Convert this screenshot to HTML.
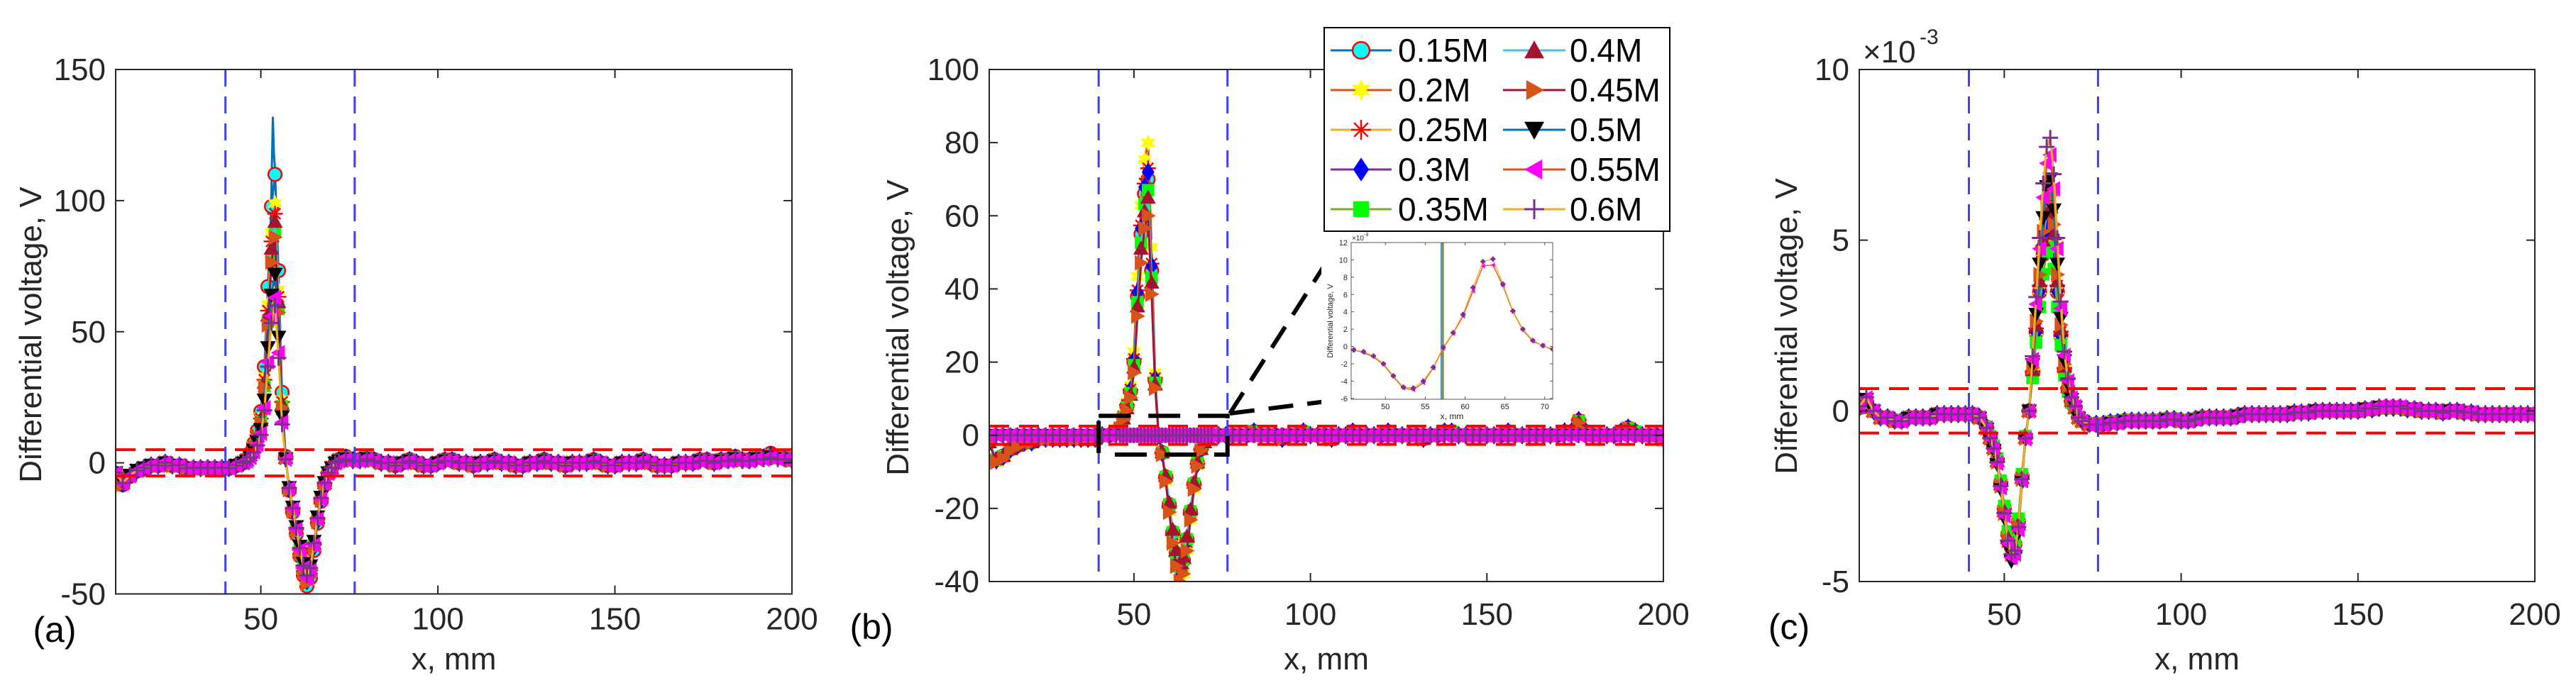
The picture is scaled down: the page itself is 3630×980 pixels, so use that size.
<!DOCTYPE html>
<html><head><meta charset="utf-8"><title>Differential voltage panels</title>
<style>
html,body{margin:0;padding:0;background:#fff;}
svg{display:block;font-family:"Liberation Sans",Arial,sans-serif;}
</style></head>
<body>
<svg id="fig" width="3630" height="980" viewBox="0 0 3630 980"></svg>
<script>
// ---------- data ----------
const seriesNames = ['0.15M','0.2M','0.25M','0.3M','0.35M','0.4M','0.45M','0.5M','0.55M','0.6M'];
const xs = [9,11,13,15,17,19,21,23,25,27,29,31,33,35,37,39,41,43,
 45,46,47,48,49,50,51,52,53,54,55,56,57,58,59,60,61,62,63,64,65,66,67,68,69,70,71,72,
 74,76,78,80,82,84,86,88,90,92,94,96,98,100,102,104,106,108,110,112,114,116,118,120,122,124,126,128,130,132,134,136,138,140,142,144,146,148,150,152,154,156,158,160,162,164,166,168,170,172,174,176,178,180,182,184,186,188,190,192,194,196,198,200];
const aValues = [-4,-8,-5,-3,-2,-1,-1,0,-1,-1,-2,-2,-2,-2,-2,-2,-2,-1,
 0,1,3,6,10,16,30,55,80,90,60,22,2,-10,-18,-26,-34,-41,-45,-42,-32,-22,-14,-8,-4,-2,0,1,
 2,1,1,2,1,0,0,-1,0,1, 0,-1,-1,0,1,1,0,0,-1,0, 0,1,0,0,-1,-1,0,0,1,0, 0,-1,0,0,0,1,0,-1,-1,0, 0,0,1,0,-1,-1,-1,0,0,0, 1,1,0,1,1,2,1,1,2,2, 3,2,2,1];
const aBasePeak = 90, aBaseTrough = -45;
const aPeaks = [110,99,95,90,88,92,86,72,63,60];
const aTroughs = [-47,-45,-44,-45,-44,-43,-46,-42,-44,-43];
// 0.15M raw-line spike in panel (a)
const aSpikeX = [52.5,53,53.4,53.7,54,54.5,55];
const aSpikeY = [70,105,132,118,112,90,60];
const bValues = [-2,-7,-6,-4,-3,-2,-2,-1,-1,-1,-1,-1,-1,-1,-1,-1,0,0,
 1,2,5,8,12,20,38,55,66,70,45,15,0,-5,-12,-20,-28,-34,-38,-36,-30,-22,-14,-8,-4,-2,-1,0,
 0,0,0,0,0,1,0,0,0,-1, 0,0,1,0,0,0,-1,0,0,1, 0,0,0,0,1,0,0,0,0,-1, 0,0,1,1,0,0,0,0,0,0, 0,1,0,0,0,0,0,0,0,1, 1,4,1,0,0,0,0,1,2,1, 0,0,0,-1];
const bBasePeak = 70, bBaseTrough = -38;
const bPeaks = [70,80,73,72,67,65,60,0,0,0];
const bTroughs = [-36,-40,-37,-37,-36,-35,-40,0,0,0];
const cValues = [0.1,0.3,0,-0.2,-0.2,-0.3,-0.3,-0.2,-0.2,-0.2,-0.2,-0.1,-0.1,-0.1,-0.1,-0.1,-0.1,-0.2,
 -0.5,-0.8,-1.1,-1.5,-2.2,-3.0,-3.8,-4.2,-4.1,-3.4,-2.0,-0.8,0,1.2,2.5,3.8,5.0,5.8,6.0,5.2,3.8,2.4,1.3,0.7,0.3,0.1,-0.2,-0.3,
 -0.4,-0.4,-0.4,-0.35,-0.35,-0.3,-0.3,-0.3,-0.3,-0.3, -0.3,-0.25,-0.25,-0.3,-0.3,-0.25,-0.2,-0.2,-0.2,-0.2, -0.2,-0.15,-0.1,-0.1,-0.1,-0.1,-0.1,-0.1,-0.1,-0.05, -0.05,-0.05,0,0,0,0,0,0,0,0.05, 0.05,0.1,0.1,0.1,0.1,0.05,0.05,0,0,0, -0.05,0,0,-0.05,-0.05,-0.1,-0.1,-0.1,-0.1,-0.1, -0.1,-0.1,-0.1,-0.1];
const cBasePeak = 6, cBaseTrough = -4.2;
const cPeaks = [5.5,5.6,5.8,5.5,4.8,6.0,6.3,6.8,7.5,8.0];
const cTroughs = [-4.0,-4.1,-4.2,-4.0,-3.9,-4.1,-4.2,-4.4,-4.3,-4.2];
const inX = [46,47.25,48.5,49.75,51,52.25,53.5,54.75,56,57.25,58.5,59.75,61,62.25,63.5,64.75,66,67.25,68.5,69.75,71];
const in55 = [-0.4,-0.7,-1.2,-2.1,-3.5,-4.8,-5.0,-4.2,-2.5,-0.2,1.5,3.5,6.4,9.3,9.4,7.0,4.0,1.9,0.6,0.1,-0.4];
const in60 = [-0.4,-0.6,-1.1,-2.0,-3.4,-4.7,-4.8,-4.0,-2.4,-0.1,1.6,3.7,6.8,9.8,10.1,7.2,4.1,2.0,0.7,0.1,-0.3];
const inVLines = [57.0,57.1,57.2,57.3];
const xTicks = [50,100,150,200];
const aYTicks = [-50,0,50,100,150];
const bYTicks = [-40,-20,0,20,40,60,80,100];
const cYTicks = [-5,0,5,10];
const inXTicks = [50,55,60,65,70];
const inYTicks = [-6,-4,-2,0,2,4,6,8,10,12];

const lineColors = ['#0072BD','#D95319','#EDB120','#7E2F8E','#77AC30','#4DBEEE','#A2142F','#0072BD','#D95319','#EDB120'];
const markerTypes = ['o','h','*','d','s','^','>','v','<','+'];

const NS = 'http://www.w3.org/2000/svg';
const svg = document.getElementById('fig');
function mk(tag, attrs, parent){const e=document.createElementNS(NS,tag);for(const k in attrs)e.setAttribute(k,attrs[k]);parent.appendChild(e);return e;}
function txt(parent,x,y,s,size,anchor,extra){const t=mk('text',Object.assign({x:x,y:y,'font-size':size,'text-anchor':anchor||'middle',fill:'#262626'},extra||{}),parent);t.textContent=s;return t;}

function drawMarker(parent,type,cx,cy,r){
  let e;
  if(type==='o'){e=mk('circle',{cx:cx,cy:cy,r:r*0.85,fill:'#00FFFF',stroke:'#FF0000','stroke-width':2.5},parent);}
  else if(type==='h'){let p=[];for(let i=0;i<12;i++){const a=Math.PI/6*i-Math.PI/2;const rr=i%2?r*0.55:r*1.1;p.push((cx+rr*Math.cos(a)).toFixed(1)+','+(cy+rr*Math.sin(a)).toFixed(1));}e=mk('polygon',{points:p.join(' '),fill:'#FFFF00'},parent);}
  else if(type==='*'){const d=r*0.7;e=mk('path',{d:`M${cx-r},${cy}H${cx+r}M${cx},${cy-r}V${cy+r}M${cx-d},${cy-d}L${cx+d},${cy+d}M${cx-d},${cy+d}L${cx+d},${cy-d}`,stroke:'#FF0000','stroke-width':2.5,fill:'none'},parent);}
  else if(type==='d'){e=mk('polygon',{points:`${cx},${cy-r*1.2} ${cx+r*0.8},${cy} ${cx},${cy+r*1.2} ${cx-r*0.8},${cy}`,fill:'#0000FF'},parent);}
  else if(type==='s'){e=mk('rect',{x:cx-r*0.8,y:cy-r*0.8,width:r*1.6,height:r*1.6,fill:'#00FF00'},parent);}
  else if(type==='^'){e=mk('polygon',{points:`${cx},${cy-r} ${cx+r},${cy+r*0.8} ${cx-r},${cy+r*0.8}`,fill:'#A2142F'},parent);}
  else if(type==='>'){e=mk('polygon',{points:`${cx+r},${cy} ${cx-r*0.8},${cy-r} ${cx-r*0.8},${cy+r}`,fill:'#D95319'},parent);}
  else if(type==='v'){e=mk('polygon',{points:`${cx},${cy+r} ${cx+r},${cy-r*0.8} ${cx-r},${cy-r*0.8}`,fill:'#000000'},parent);}
  else if(type==='<'){e=mk('polygon',{points:`${cx-r},${cy} ${cx+r*0.8},${cy-r} ${cx+r*0.8},${cy+r}`,fill:'#FF00FF'},parent);}
  else {e=mk('path',{d:`M${cx-r},${cy}H${cx+r}M${cx},${cy-r}V${cy+r}`,stroke:'#7E2F8E','stroke-width':3,fill:'none'},parent);}
  return e;
}

function drawPanel(cfg){
  const g=mk('g',{},svg);
  
  
  const sx=v=>cfg.L+(v-cfg.xmin)/(cfg.xmax-cfg.xmin)*(cfg.R-cfg.L);
  const sy=v=>cfg.B-(v-cfg.ymin)/(cfg.ymax-cfg.ymin)*(cfg.B-cfg.T);
  const cp=mk('clipPath',{id:cfg.id+'clip'},g);
  mk('rect',{x:cfg.L,y:cfg.T,width:cfg.R-cfg.L,height:cfg.B-cfg.T},cp);
  const data=mk('g',{'clip-path':`url(#${cfg.id}clip)`},g);
  
  
  if(cfg.spikeX){
    const sp=mk('polyline',{points:cfg.spikeX.map((x,i)=>sx(x).toFixed(1)+','+sy(cfg.spikeY[i]).toFixed(1)).join(' '),fill:'none',stroke:'#0072BD','stroke-width':3},data);
    
    
  }
  for(let s=0;s<seriesNames.length;s++){
    const sg=mk('g',{},data);
    
    
    const ys=cfg.vals.map(v=>v>0?v*cfg.peaks[s]/cfg.bp:v*cfg.troughs[s]/cfg.bt);
    const pts=xs.map((x,i)=>sx(x).toFixed(1)+','+sy(ys[i]).toFixed(1)).join(' ');
    const pl=mk('polyline',{points:pts,fill:'none',stroke:lineColors[s],'stroke-width':3},sg);
    
    
    xs.forEach((x,i)=>{
      const m=drawMarker(sg,markerTypes[s],sx(x),sy(ys[i]),11);
      
      
    });
  }
  [cfg.thr,-cfg.thr].forEach(t=>{
    const l=mk('line',{x1:cfg.L,x2:cfg.R,y1:sy(t),y2:sy(t),stroke:'#FF0000','stroke-width':4,'stroke-dasharray':'28 14'},g);
    
    
  });
  [40,76.5].forEach(v=>{
    const l=mk('line',{x1:sx(v),x2:sx(v),y1:cfg.T,y2:cfg.B,stroke:'#3F3FF5','stroke-width':3,'stroke-dasharray':'24 14'},g);
    
    
  });
  const box=mk('rect',{x:cfg.L,y:cfg.T,width:cfg.R-cfg.L,height:cfg.B-cfg.T,fill:'none',stroke:'#262626','stroke-width':2},g);
  
  
  xTicks.forEach(v=>{
    const X=sx(v);
    const tk=mk('path',{d:`M${X},${cfg.B}v-12M${X},${cfg.T}v12`,stroke:'#262626','stroke-width':2},g);
    
    
    const t=txt(g,X,cfg.B+cfg.xlabOff,String(v),44);
    
    
  });
  cfg.yTicks.forEach(v=>{
    const Y=sy(v);
    const tk=mk('path',{d:`M${cfg.L},${Y}h12M${cfg.R},${Y}h-12`,stroke:'#262626','stroke-width':2},g);
    
    
    const t=txt(g,cfg.L-14,Y+15,String(v),44,'end');
    
    
  });
  const xt=txt(g,(cfg.L+cfg.R)/2,944,'x, mm',44);
  
  
  const yt=txt(g,0,0,'Differential voltage, V',44,'middle',{transform:`translate(${cfg.ylx},${cfg.yly}) rotate(-90)`});
  
  
  const pl=txt(g,cfg.plx,cfg.ply,cfg.label,50,'middle',{fill:'#000'});
  
  
  return {g,sx,sy};
}

const pa=drawPanel({name:'panel-a',id:'a',L:163,R:1116,T:98,B:837.5,xmin:9,xmax:200,ymin:-50,ymax:150,
 vals:aValues,peaks:aPeaks,troughs:aTroughs,bp:aBasePeak,bt:aBaseTrough,thr:5,yTicks:aYTicks,xlabOff:50,
 ylx:58,yly:472,plx:77,ply:905,label:'(a)',spikeX:aSpikeX,spikeY:aSpikeY});
const pb=drawPanel({name:'panel-b',id:'b',L:1394,R:2344,T:98,B:820,xmin:9,xmax:200,ymin:-40,ymax:100,
 vals:bValues,peaks:bPeaks,troughs:bTroughs,bp:bBasePeak,bt:bBaseTrough,thr:2.5,yTicks:bYTicks,xlabOff:61,
 ylx:1280,yly:462,plx:1228,ply:901,label:'(b)'});
const pc=drawPanel({name:'panel-c',id:'c',L:2620,R:3572,T:98,B:820,xmin:9,xmax:200,ymin:-5,ymax:10,
 vals:cValues,peaks:cPeaks,troughs:cTroughs,bp:cBasePeak,bt:cBaseTrough,thr:0.65,yTicks:cYTicks,xlabOff:61,
 ylx:2532,yly:460,plx:2521,ply:901,label:'(c)'});
const ex=txt(pc.g,2625,88,'\u00d710',44,'start');


const ex2=txt(pc.g,2705,62,'-3',30,'start');



const zb=mk('rect',{x:pb.sx(40),y:pb.sy(5.3),width:pb.sx(76.5)-pb.sx(40),height:pb.sy(-5.3)-pb.sy(5.3),fill:'none',stroke:'#000','stroke-width':6,'stroke-dasharray':'45 25'},pb.g);


const c1=mk('line',{x1:1733,y1:583,x2:1869,y2:370,stroke:'#000','stroke-width':6,'stroke-dasharray':'35 20'},pb.g);


const c2=mk('line',{x1:1733,y1:583,x2:1869,y2:566,stroke:'#000','stroke-width':6,'stroke-dasharray':'35 20'},pb.g);



const ig=mk('g',{},svg);


mk('rect',{x:1862,y:326,width:338,height:270,fill:'#fff'},ig);
const IL=1904,IR=2188,IT=342,IB=563,ixmin=45.7,ixmax=71,iymin=-6.1,iymax=12;
const isx=v=>IL+(v-ixmin)/(ixmax-ixmin)*(IR-IL);
const isy=v=>IB-(v-iymin)/(iymax-iymin)*(IB-IT);
const icp=mk('clipPath',{id:'iclip'},ig);
mk('rect',{x:IL,y:IT,width:IR-IL,height:IB-IT},icp);
const idata=mk('g',{'clip-path':'url(#iclip)'},ig);
const vcols=['#0072BD','#4DBEEE','#D95319','#77AC30'];
inVLines.forEach((v,i)=>{
  const l=mk('line',{x1:isx(v),x2:isx(v),y1:IT,y2:IB,stroke:vcols[i],'stroke-width':1.2},idata);
  
  
});
[[in55,'#D95319','<','0.55M'],[in60,'#EDB120','+','0.6M']].forEach(([ys,col,mt,nm])=>{
  const l=mk('polyline',{points:inX.map((x,i)=>isx(x).toFixed(1)+','+isy(ys[i]).toFixed(1)).join(' '),fill:'none',stroke:col,'stroke-width':1.3},idata);
  
  
  inX.forEach((x,i)=>{
    const m=drawMarker(idata,mt,isx(x),isy(ys[i]),3.5);
    
    
  });
});
const ibox=mk('rect',{x:IL,y:IT,width:IR-IL,height:IB-IT,fill:'none',stroke:'#555','stroke-width':1},ig);


inXTicks.forEach(v=>{
  mk('path',{d:`M${isx(v)},${IB}v-4M${isx(v)},${IT}v4`,stroke:'#555','stroke-width':1},ig);
  const t=txt(ig,isx(v),IB+14,String(v),11);
  
  
});
inYTicks.forEach(v=>{
  mk('path',{d:`M${IL},${isy(v)}h4M${IR},${isy(v)}h-4`,stroke:'#555','stroke-width':1},ig);
  const t=txt(ig,IL-5,isy(v)+4,String(v),11,'end');
  
  
});
const ixt=txt(ig,(IL+IR)/2,591,'x, mm',12);


const iyt=txt(ig,0,0,'Differential voltage, V',11,'middle',{transform:`translate(1878,${(IT+IB)/2}) rotate(-90)`});


const iex=txt(ig,1905,339,'\u00d710',10,'start');


txt(ig,1922,333,'-3',7,'start');

const lg=mk('g',{},svg);


mk('rect',{x:1866,y:39,width:487,height:287,fill:'#fff',stroke:'#000','stroke-width':2},lg);
const rowsY=[71,127,183,239,295];
seriesNames.forEach((nm,s)=>{
  const col=s<5?0:1, row=s%5;
  const x0=col?2118:1875, x1=col?2206:1961, mx=col?2162:1918, tx=col?2212:1970;
  const y=rowsY[row];
  const eg=mk('g',{},lg);
  
  
  mk('line',{x1:x0,x2:x1,y1:y,y2:y,stroke:lineColors[s],'stroke-width':3},eg);
  drawMarker(eg,markerTypes[s],mx,y,14);
  const t=txt(eg,tx,y+16,nm,46,'start',{fill:'#000'});
  
  
});
</script>
</body></html>
